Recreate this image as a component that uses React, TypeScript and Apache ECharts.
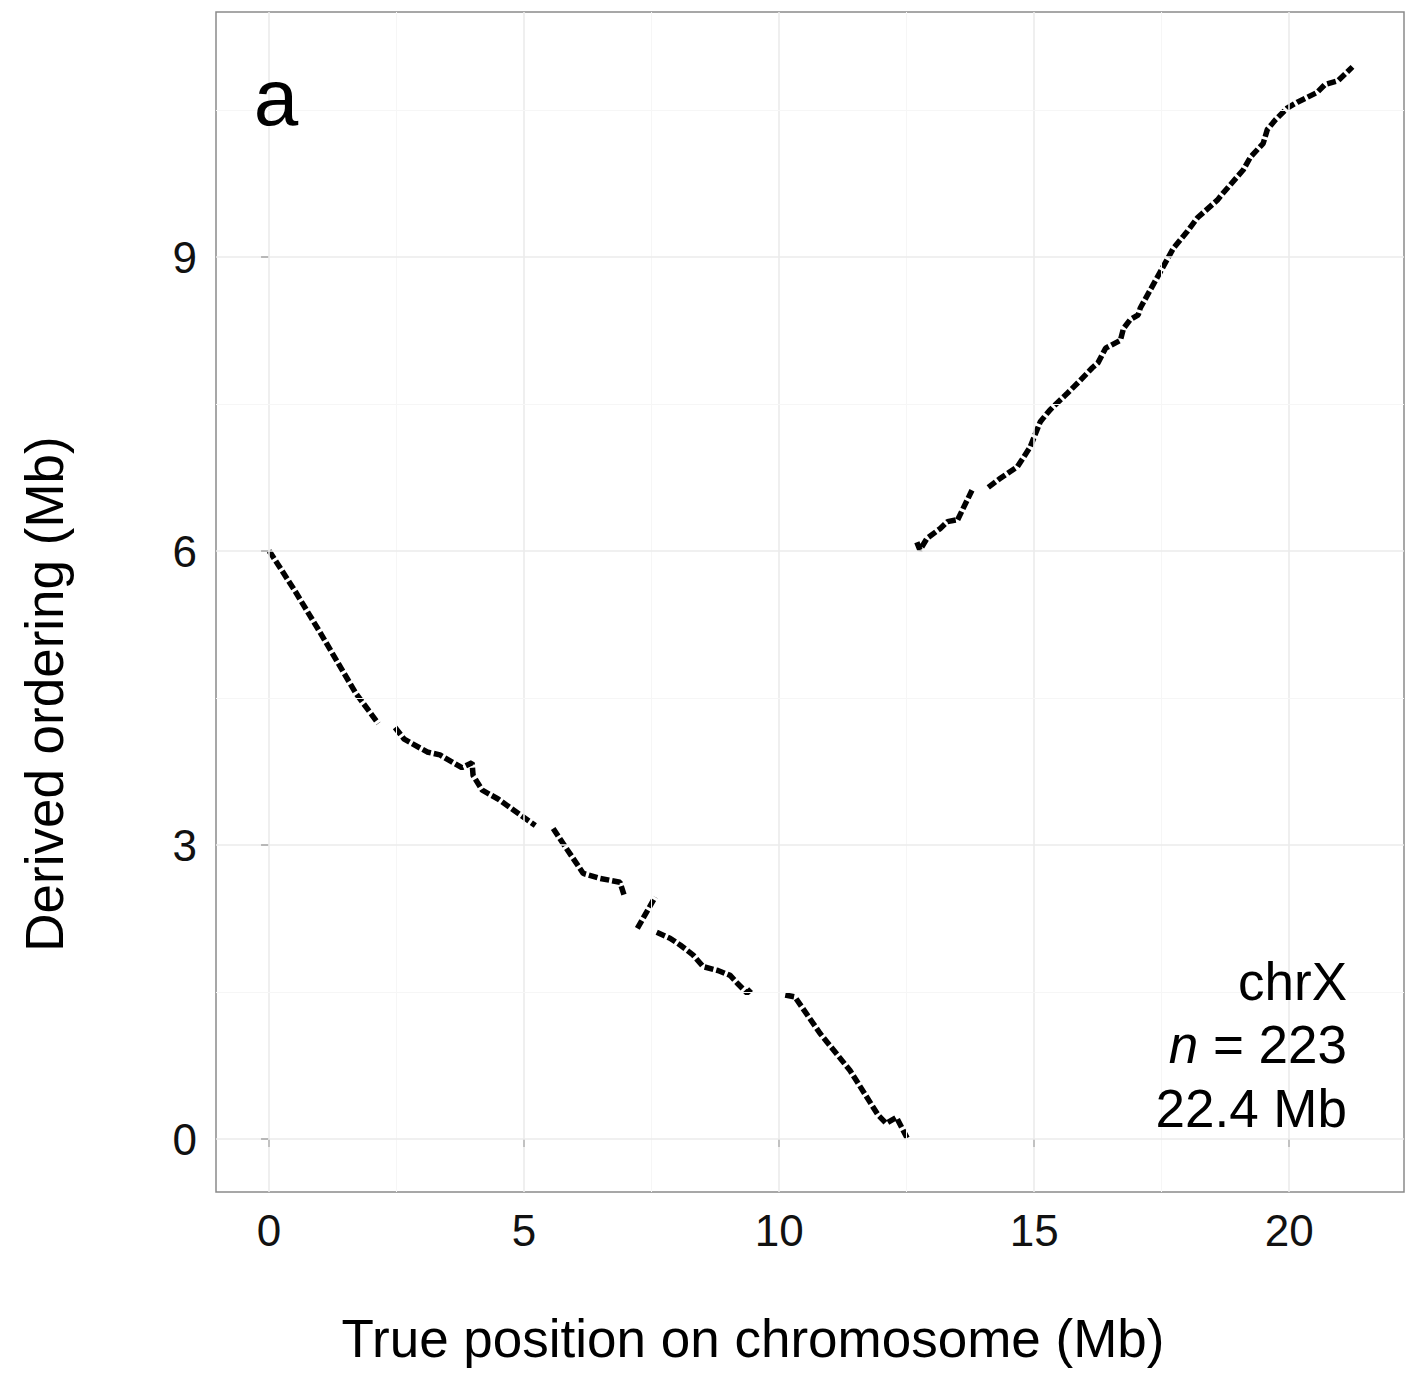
import React, { useEffect, useRef } from "react";
import * as echarts from "echarts";

// Axis ticks
const xTicks = [0, 5, 10, 15, 20];
const yTicks = [0, 3, 6, 9];
const xMinorGrid = [2.5, 7.5, 12.5, 17.5];
const yMinorGrid = [1.5, 4.5, 7.5, 10.5];

// Runs of markers (true position Mb, derived ordering Mb)
const runA = [[0.0, 6.0], [0.03, 5.98], [0.5, 5.6], [1.0, 5.17], [1.35, 4.86], [1.7, 4.55], [2.14, 4.24]];
const runB = [[2.47, 4.2], [2.65, 4.08], [3.1, 3.95], [3.35, 3.92], [3.78, 3.79], [3.98, 3.84], [4.0, 3.71], [4.18, 3.56], [4.49, 3.47], [4.73, 3.38], [5.22, 3.2]];
const runC = [[5.57, 3.17], [5.85, 2.95], [6.16, 2.71], [6.49, 2.66], [6.88, 2.62], [6.96, 2.49]];
const runD = [[7.22, 2.15], [7.57, 2.47]];
const runE = [[7.6, 2.11], [7.86, 2.05], [8.06, 1.98], [8.31, 1.88], [8.51, 1.76], [8.8, 1.72], [9.04, 1.67], [9.18, 1.59], [9.37, 1.49], [9.49, 1.55]];
const runF = [[10.12, 1.47], [10.31, 1.45], [10.8, 1.08], [11.39, 0.7], [11.94, 0.245], [12.1, 0.16], [12.3, 0.22], [12.51, 0.01]];
const runG = [[12.7, 6.09], [12.76, 6.01], [12.9, 6.13], [13.16, 6.23], [13.3, 6.3], [13.5, 6.32]];
const runH = [[13.5, 6.32], [13.78, 6.62]];
const runI = [[14.1, 6.65], [14.33, 6.74], [14.67, 6.86], [14.92, 7.06], [15.12, 7.32], [15.31, 7.44], [15.65, 7.61], [15.9, 7.74], [16.14, 7.87], [16.25, 7.92], [16.4, 8.07], [16.69, 8.15], [16.75, 8.27], [16.88, 8.36], [17.04, 8.41], [17.08, 8.48], [17.41, 8.79], [17.73, 9.09], [18.0, 9.26], [18.2, 9.4], [18.59, 9.58], [18.7, 9.65], [19.1, 9.89], [19.24, 10.02], [19.49, 10.16], [19.57, 10.3], [19.73, 10.4], [19.96, 10.52], [20.16, 10.58], [20.55, 10.68], [20.7, 10.76], [20.96, 10.8], [21.24, 10.94]];
const runs = [runA, runB, runC, runD, runE, runF, runG, runH, runI];

const FAM = "'Liberation Sans', Arial, Helvetica, sans-serif";
const f = (size: number, style = "normal") => `${style} normal ${size}px ${FAM}`;
const TS = 53;

export default function App() {
  const ref = useRef<HTMLDivElement>(null);
  useEffect(() => {
    if (!ref.current) return;
    const chart = echarts.init(ref.current, null, { renderer: "svg" });
    const gridLines = [
      ...xTicks.map((v) => ({ xAxis: v, lineStyle: { color: "#ebebeb", width: 1.6, type: "solid" } })),
      ...xMinorGrid.map((v) => ({ xAxis: v, lineStyle: { color: "#f6f6f6", width: 1, type: "solid" } })),
      ...yTicks.map((v) => ({ yAxis: v, lineStyle: { color: "#ebebeb", width: 1.6, type: "solid" } })),
      ...yMinorGrid.map((v) => ({ yAxis: v, lineStyle: { color: "#f6f6f6", width: 1, type: "solid" } })),
    ];
    chart.setOption({
      animation: false,
      backgroundColor: "#ffffff",
      grid: {
        left: 216,
        right: 4,
        top: 12,
        bottom: 182,
        show: true,
        borderColor: "#8a8a8a",
        borderWidth: 1.5,
        backgroundColor: "transparent",
      },
      xAxis: {
        type: "value",
        min: -1.04,
        max: 22.25,
        axisLine: { show: false },
        splitLine: { show: false },
        axisTick: { show: true, customValues: xTicks, length: 8, lineStyle: { color: "#222", width: 2 } },
        axisLabel: { customValues: xTicks, fontSize: 44, color: "#111", fontFamily: FAM, margin: 16 },
      },
      yAxis: {
        type: "value",
        min: -0.54,
        max: 11.5,
        axisLine: { show: false },
        splitLine: { show: false },
        axisTick: { show: true, customValues: yTicks, length: 8, lineStyle: { color: "#222", width: 2 } },
        axisLabel: { customValues: yTicks, fontSize: 44, color: "#111", fontFamily: FAM, margin: 19 },
      },
      graphic: [
        { type: "text", z: 100, silent: true, x: 276, y: 97, style: { text: "a", font: f(80), fill: "#000", align: "center", verticalAlign: "middle" } },
        { type: "text", z: 100, silent: true, x: 753, y: 1338.6, style: { text: "True position on chromosome (Mb)", font: f(TS), fill: "#000", align: "center", verticalAlign: "middle" } },
        { type: "text", z: 100, silent: true, x: 44, y: 694, rotation: Math.PI / 2, style: { text: "Derived ordering (Mb)", font: f(TS), fill: "#000", align: "center", verticalAlign: "middle" } },
        { type: "text", z: 100, silent: true, x: 1347, y: 981.6, style: { text: "chrX", font: f(TS), fill: "#000", align: "right", verticalAlign: "middle" } },
        {
          type: "text", z: 100, silent: true, x: 1347, y: 1044.6,
          style: {
            text: "{i|n} = 223", font: f(TS), fill: "#000", align: "right", verticalAlign: "middle",
            rich: { i: { font: f(TS, "italic"), fill: "#000" } },
          },
        },
        { type: "text", z: 100, silent: true, x: 1347, y: 1108.6, style: { text: "22.4 Mb", font: f(TS), fill: "#000", align: "right", verticalAlign: "middle" } },
      ],
      series: [
        {
          type: "scatter",
          data: [],
          z: 1,
          silent: true,
          markLine: { silent: true, symbol: "none", label: { show: false }, data: gridLines },
        },
        ...runs.map((r) => ({
          type: "line",
          data: r,
          z: 3,
          showSymbol: false,
          symbol: "none",
          silent: true,
          lineStyle: { color: "#000", width: 5.5, type: [9, 3], cap: "butt" },
        })),
      ],
    });
    return () => chart.dispose();
  }, []);
  return <div ref={ref} style={{ position: "fixed", left: 0, top: 0, width: 1408, height: 1374 }} />;
}
